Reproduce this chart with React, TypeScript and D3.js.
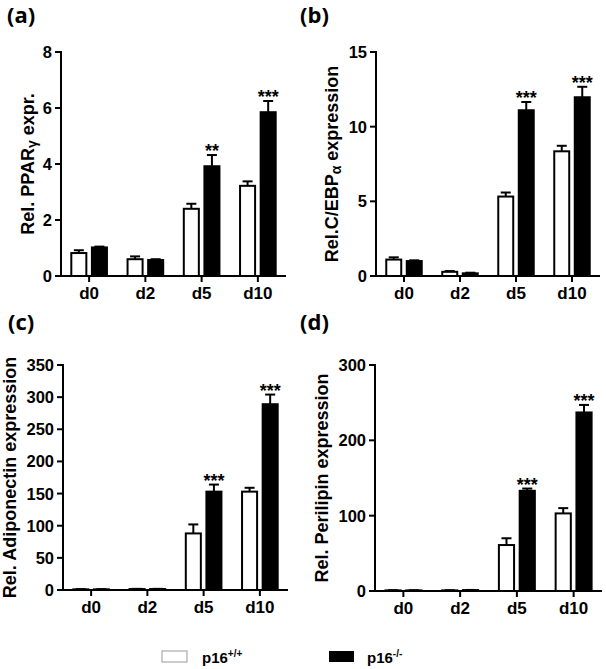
import * as React from "react";
import * as d3 from "d3";

const days: string[] = ["d0", "d2", "d5", "d10"];
const groups: string[] = ["p16+/+", "p16-/-"];

// (a) PPARgamma
const pparWT: number[] = [0.82, 0.6, 2.4, 3.22];
const pparWTErr: number[] = [0.1, 0.1, 0.18, 0.16];
const pparKO: number[] = [1.02, 0.57, 3.92, 5.85];
const pparKOErr: number[] = [0.03, 0.03, 0.4, 0.4];
const pparStars: string[] = ["", "", "**", "***"];
const pparTicks: number[] = [0, 2, 4, 6, 8];

// (b) C/EBPalpha
const cebpWT: number[] = [1.1, 0.28, 5.32, 8.35];
const cebpWTErr: number[] = [0.15, 0.05, 0.27, 0.37];
const cebpKO: number[] = [1.0, 0.18, 11.1, 11.97];
const cebpKOErr: number[] = [0.05, 0.04, 0.55, 0.7];
const cebpStars: string[] = ["", "", "***", "***"];
const cebpTicks: number[] = [0, 5, 10, 15];

// (c) Adiponectin
const adipoWT: number[] = [1, 1.5, 88, 153];
const adipoWTErr: number[] = [0.3, 0.3, 14, 6];
const adipoKO: number[] = [1, 1.5, 153, 289];
const adipoKOErr: number[] = [0.3, 0.3, 11, 15];
const adipoStars: string[] = ["", "", "***", "***"];
const adipoTicks: number[] = [0, 50, 100, 150, 200, 250, 300, 350];

// (d) Perilipin
const perilWT: number[] = [0.8, 0.8, 61, 103];
const perilWTErr: number[] = [0.2, 0.2, 9, 7];
const perilKO: number[] = [0.8, 1.2, 133, 237];
const perilKOErr: number[] = [0.2, 0.2, 3, 10];
const perilStars: string[] = ["", "", "***", "***"];
const perilTicks: number[] = [0, 100, 200, 300];

const FONT = "'Liberation Sans', Arial, sans-serif";
const LETTER_FONT = "'Open Sans', 'Liberation Sans', sans-serif";

interface PanelProps {
  letter: string;
  letterX: number;
  letterY: number;
  left: number;
  right: number;
  top: number;
  bottom: number;
  titleOffset: number;
  title: React.ReactNode;
  ticks: number[];
  wt: number[];
  wtErr: number[];
  ko: number[];
  koErr: number[];
  stars: string[];
}

function Panel(props: PanelProps): JSX.Element {
  const { left, right, top, bottom, ticks } = props;
  const y = d3.scaleLinear()
    .domain([0, ticks[ticks.length - 1]])
    .range([bottom, top]);
  const x0 = d3.scaleBand<string>()
    .domain(days)
    .range([left, right]);
  const x1 = d3.scaleBand<string>()
    .domain(groups)
    .range([0, x0.bandwidth()])
    .paddingInner(0.27)
    .paddingOuter(0.5);
  const bw = x1.bandwidth();
  const capHalf = 5;

  const series = [
    { key: groups[0], vals: props.wt, errs: props.wtErr, fill: "#ffffff" },
    { key: groups[1], vals: props.ko, errs: props.koErr, fill: "#000000" },
  ];

  return (
    <g>
      <text x={props.letterX} y={props.letterY} fontFamily={LETTER_FONT}
        fontWeight="bold" fontSize={22}>{props.letter}</text>

      {series.map((s) => (
        <g key={s.key}>
          {days.map((d, i) => {
            const bx = (x0(d) ?? 0) + (x1(s.key) ?? 0);
            const cx = bx + bw / 2;
            const yv = y(s.vals[i]);
            const ye = y(s.vals[i] + s.errs[i]);
            return (
              <g key={d}>
                <line x1={cx} x2={cx} y1={yv} y2={ye} stroke="#000" strokeWidth={2} />
                <line x1={cx - capHalf} x2={cx + capHalf} y1={ye} y2={ye} stroke="#000" strokeWidth={2} />
                <rect x={bx} y={yv} width={bw} height={Math.max(0, bottom - yv)}
                  fill={s.fill} stroke="#000" strokeWidth={2} />
              </g>
            );
          })}
        </g>
      ))}

      {days.map((d, i) => props.stars[i] ? (
        <text key={d}
          x={(x0(d) ?? 0) + (x1(groups[1]) ?? 0) + bw / 2}
          y={y(props.ko[i] + props.koErr[i]) + 2}
          textAnchor="middle" fontFamily={FONT} fontWeight="bold" fontSize={18}>{props.stars[i]}</text>
      ) : null)}

      {/* y axis */}
      <line x1={left} x2={left} y1={top - 1} y2={bottom + 1} stroke="#000" strokeWidth={2} />
      {ticks.map((t) => (
        <g key={t}>
          <line x1={left - 6} x2={left} y1={y(t)} y2={y(t)} stroke="#000" strokeWidth={2} />
          <text x={left - 9} y={y(t)} dy="0.36em" textAnchor="end" fontFamily={FONT}
            fontWeight="bold" fontSize={16.5}>{t}</text>
        </g>
      ))}
      <text transform={`translate(${left - props.titleOffset}, ${(top + bottom) / 2}) rotate(-90)`}
        textAnchor="middle" fontFamily={FONT} fontWeight="bold" fontSize={18}>{props.title}</text>

      {/* x axis */}
      <line x1={left - 1} x2={right} y1={bottom} y2={bottom} stroke="#000" strokeWidth={2} />
      {days.map((d) => {
        const cx = (x0(d) ?? 0) + x0.bandwidth() / 2;
        return (
          <g key={d}>
            <line x1={cx} x2={cx} y1={bottom} y2={bottom + 6} stroke="#000" strokeWidth={2} />
            <text x={cx} y={bottom + 23} textAnchor="middle" fontFamily={FONT}
              fontWeight="bold" fontSize={17}>{d}</text>
          </g>
        );
      })}
    </g>
  );
}

export default function App(): JSX.Element {
  return (
    <svg width={606} height={669} style={{ position: "absolute", left: 0, top: 0, background: "#fff" }}>
      <rect width={606} height={669} fill="#fff" />
      <Panel letter="(a)" letterX={7} letterY={23} left={61} right={286} top={52} bottom={276}
        titleOffset={27} ticks={pparTicks} wt={pparWT} wtErr={pparWTErr} ko={pparKO} koErr={pparKOErr}
        stars={pparStars}
        title={<>Rel. PPAR<tspan fontSize={14} dy={3}>γ</tspan><tspan dy={-3}> expr.</tspan></>} />
      <Panel letter="(b)" letterX={300} letterY={23} left={376} right={600} top={52} bottom={276}
        titleOffset={38} ticks={cebpTicks} wt={cebpWT} wtErr={cebpWTErr} ko={cebpKO} koErr={cebpKOErr}
        stars={cebpStars}
        title={<>Rel.C/EBP<tspan fontSize={14} dy={3}>α</tspan><tspan dy={-3}> expression</tspan></>} />
      <Panel letter="(c)" letterX={8} letterY={330} left={63} right={288} top={365} bottom={590}
        titleOffset={47} ticks={adipoTicks} wt={adipoWT} wtErr={adipoWTErr} ko={adipoKO} koErr={adipoKOErr}
        stars={adipoStars} title="Rel. Adiponectin expression" />
      <Panel letter="(d)" letterX={300} letterY={330} left={375} right={602} top={365} bottom={591}
        titleOffset={47} ticks={perilTicks} wt={perilWT} wtErr={perilWTErr} ko={perilKO} koErr={perilKOErr}
        stars={perilStars} title="Rel. Perilipin expression" />

      {/* legend */}
      <rect x={162} y={651} width={25} height={11} fill="#fff" stroke="#999" strokeWidth={1} />
      <text x={202} y={663} fontFamily={FONT} fontWeight="bold" fontSize={15}>
        p16<tspan fontSize={10} dy={-6}>+/+</tspan>
      </text>
      <rect x={329} y={651} width={25} height={11} fill="#000" />
      <text x={367} y={663} fontFamily={FONT} fontWeight="bold" fontSize={15}>
        p16<tspan fontSize={10} dy={-6}>-/-</tspan>
      </text>
    </svg>
  );
}
